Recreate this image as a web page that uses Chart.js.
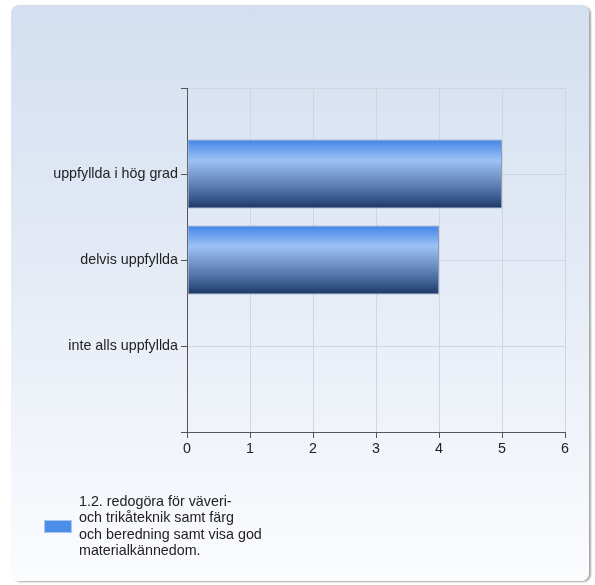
<!DOCTYPE html>
<html>
<head>
<meta charset="utf-8">
<script src="https://cdn.jsdelivr.net/npm/chart.js@4"></script>
<style>
  html, body { margin: 0; padding: 0; background: #fff; }
  body { width: 595px; height: 585px; position: relative; overflow: hidden; }
  #panel {
    position: absolute; left: 11px; top: 5px; width: 578px; height: 576px;
    border-radius: 8px;
    background: linear-gradient(to bottom, #d3dff0 0%, #e6ecf6 50%, #fbfcfe 100%);
    box-shadow: 2px 1px 2px rgba(0,0,0,0.35);
  }
  #wrap { position: absolute; left: 0; top: 0; width: 595px; height: 585px; }
  #legend {
    position: absolute; left: 44px; top: 493px;
    font: 14.3px 'Liberation Sans', Arial, sans-serif; color: #222;
    display: flex; align-items: center;
  }
  #legend .box { width: 26px; height: 11px; background: #4b8ee8; border: 1px solid #a9c6ef; margin-right: 7px; margin-top: 2px; }
  #legend .txt { line-height: 16.3px; }
</style>
</head>
<body>
<div id="panel"></div>
<div id="wrap"><canvas id="chart"></canvas></div>
<div id="legend"><div class="box"></div><div class="txt"></div></div>
<script>
// categories (blank slots at both ends keep the labels on the gridlines)
const categories = ['', 'uppfyllda i hög grad', 'delvis uppfyllda', 'inte alls uppfyllda', ''];
const counts = [null, 5, 4, 0, null];
const seriesLabel = ['1.2. redogöra för väveri-', 'och trikåteknik samt färg', 'och beredning samt visa god', 'materialkännedom.'];
const xTicks = [0, 1, 2, 3, 4, 5, 6];

const font = { family: "'Liberation Sans', Arial, sans-serif", size: 14.3 };

// legend as html, lines kept as in the original
document.querySelector('#legend .txt').innerHTML = seriesLabel.join('<br>');

function barGradient(ctx) {
    const chart = ctx.chart;
    const y = chart.scales.y;
    if (!y || ctx.dataIndex === undefined) return '#4a8de8';
    const mid = y.getPixelForValue(ctx.dataIndex);
    const half = Math.abs(y.getPixelForValue(1) - y.getPixelForValue(0)) * 0.8 / 2;
    if (!isFinite(mid) || !isFinite(half) || half === 0) return '#4a8de8';
    const g = chart.ctx.createLinearGradient(0, mid - half, 0, mid + half);
    g.addColorStop(0, '#3f85e6');
    g.addColorStop(0.3, '#9dc2f6');
    g.addColorStop(0.55, '#7294c6');
    g.addColorStop(0.8, '#44659a');
    g.addColorStop(1, '#1b3662');
    return g;
}

const chart = new Chart(document.getElementById('chart'), {
    type: 'bar',
    data: {
        labels: categories,
        datasets: [{
            label: seriesLabel.join(' '),
            data: counts,
            backgroundColor: barGradient,
            borderColor: '#8e9fba',
            borderWidth: 1,
            borderSkipped: false,
            barPercentage: 1,
            categoryPercentage: 0.8
        }]
    },
    options: {
        indexAxis: 'y',
        responsive: true,
        maintainAspectRatio: false,
        animation: false,
        layout: { padding: { top: 88, right: 30, left: 0, bottom: 127 } },
        scales: {
            x: {
                min: 0, max: 6,
                afterBuildTicks: (s) => { s.ticks = xTicks.map(v => ({ value: v })); },
                ticks: { font: font, color: '#222', padding: 2 },
                grid: { color: '#cfd6df', tickLength: 6, tickColor: '#555' },
                border: { color: '#555' },
                afterFit: (s) => { s.height = 26; }
            },
            y: {
                offset: false,
                ticks: { font: font, color: '#222', padding: 3, autoSkip: false },
                grid: { offset: false, color: '#cfd6df', tickLength: 6, tickColor: '#555' },
                border: { color: '#555' },
                afterFit: (s) => { s.width = 187; }
            }
        },
        plugins: {
            tooltip: { enabled: false },
            legend: { display: false }
        }
    }
});
</script>
</body>
</html>
